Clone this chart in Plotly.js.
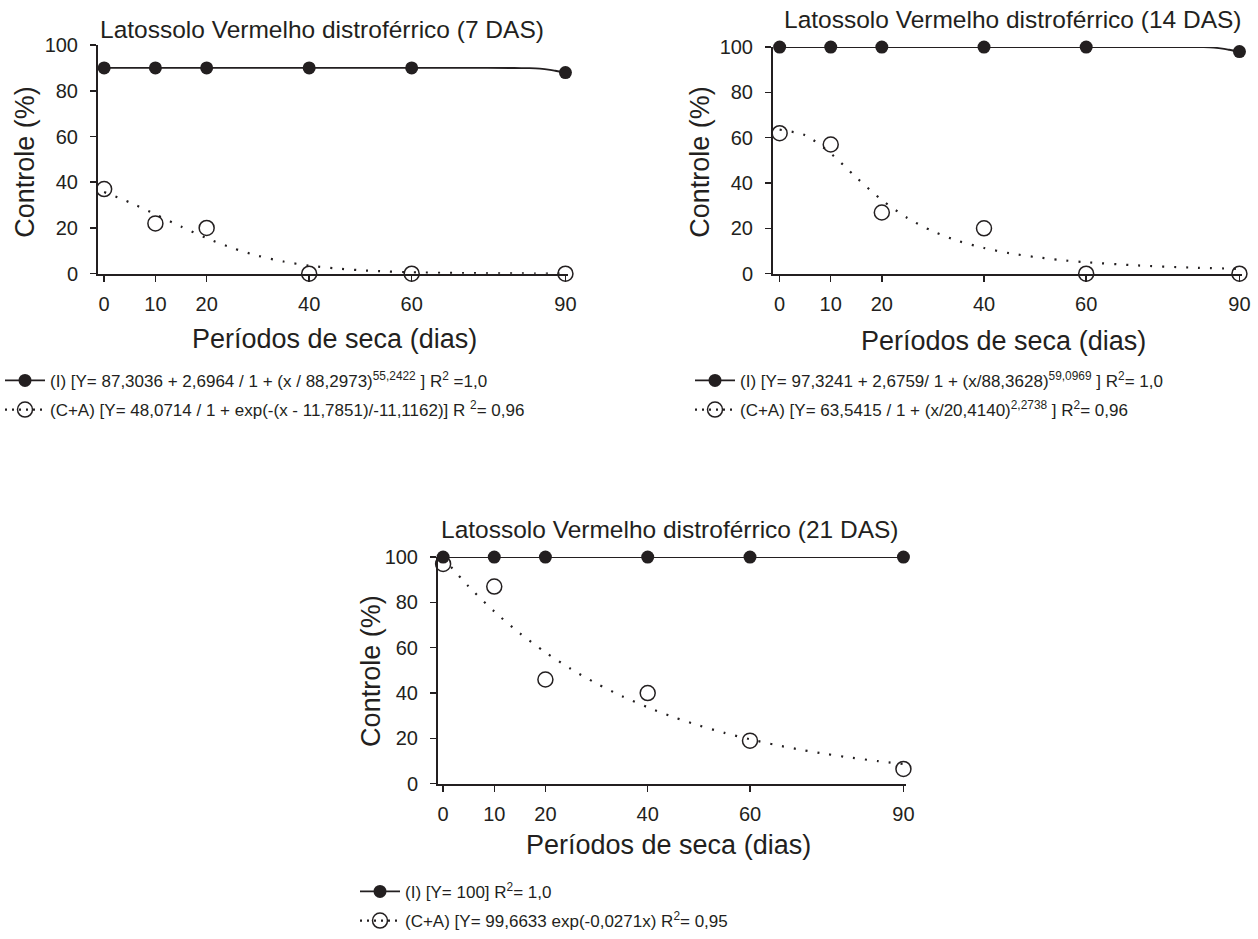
<!DOCTYPE html>
<html>
<head>
<meta charset="utf-8">
<script src="https://cdn.plot.ly/plotly-3.0.1.min.js"></script>
<style>html,body{margin:0;padding:0;background:#fff;}#chart{width:1258px;height:939px;}</style>
</head>
<body>
<div id="chart"></div>
<script>
// ---- Data ----
const days = [0, 10, 20, 40, 60, 90];
const xTickVals = [0, 10, 20, 40, 60, 90];
const yTickVals = [0, 20, 40, 60, 80, 100];

// 7 DAS
const obsI7 = [90, 90, 90, 90, 90, 88];
const obsCA7 = [37, 22, 20, 0, 0, 0];
const fitI7x = [0, 10, 20, 40, 60, 70, 80, 83, 85, 87, 88, 89, 90];
const fitI7y = [90, 90, 90, 90, 90, 90, 89.99, 89.91, 89.7, 89.17, 88.78, 88.36, 88.0];
const fitCA7x = [0, 5, 10, 15, 20, 25, 30, 35, 40, 45, 50, 55, 60, 70, 80, 90];
const fitCA7y = [35.7, 31.15, 25.96, 20.58, 15.54, 11.22, 7.82, 5.3, 3.52, 2.31, 1.5, 0.97, 0.62, 0.25, 0.1, 0.04];

// 14 DAS
const obsI14 = [100, 100, 100, 100, 100, 98];
const obsCA14 = [62, 57, 27, 20, 0, 0];
const fitI14x = [0, 10, 20, 40, 60, 70, 80, 83, 85, 87, 88, 89, 90];
const fitI14y = [100, 100, 100, 100, 100, 100, 99.99, 99.94, 99.76, 99.24, 98.82, 98.38, 98.0];
const fitCA14x = [0, 5, 10, 15, 20, 25, 30, 35, 40, 45, 50, 55, 60, 70, 80, 90];
const fitCA14y = [63.54, 61.05, 53.06, 42.46, 32.51, 24.58, 18.69, 14.42, 11.32, 9.03, 7.33, 6.03, 5.04, 3.64, 2.72, 2.11];

// 21 DAS
const obsI21 = [100, 100, 100, 100, 100, 100];
const obsCA21 = [97, 87, 46, 40, 19, 6.5];
const fitI21x = [0, 90];
const fitI21y = [100, 100];
const fitCA21x = [0, 5, 10, 15, 20, 25, 30, 35, 40, 45, 50, 55, 60, 65, 70, 75, 80, 85, 90];
const fitCA21y = [99.66, 87.04, 76.01, 66.38, 57.97, 50.62, 44.21, 38.6, 33.71, 29.44, 25.71, 22.45, 19.61, 17.12, 14.95, 13.06, 11.4, 9.96, 8.7];

// Titles and legend texts
const panelTitles = [
  'Latossolo Vermelho distroférrico (7 DAS)',
  'Latossolo Vermelho distroférrico (14 DAS)',
  'Latossolo Vermelho distroférrico (21 DAS)'
];
const yTitle = 'Controle (%)';
const xTitle = 'Períodos de seca (dias)';
const legendI = [
  '(I) [Y= 87,3036 + 2,6964 / 1 + (x / 88,2973)<sup>55,2422</sup> ] R<sup>2</sup> =1,0',
  '(I) [Y= 97,3241 + 2,6759/ 1 + (x/88,3628)<sup>59,0969</sup> ] R<sup>2</sup>= 1,0',
  '(I) [Y= 100] R<sup>2</sup>= 1,0'
];
const legendCA = [
  '(C+A) [Y= 48,0714 / 1 + exp(-(x - 11,7851)/-11,1162)] R <sup>2</sup>= 0,96',
  '(C+A) [Y= 63,5415 / 1 + (x/20,4140)<sup>2,2738</sup> ] R<sup>2</sup>= 0,96',
  '(C+A) [Y= 99,6633 exp(-0,0271x) R<sup>2</sup>= 0,95'
];

// ---- Styling ----
const INK = '#231f20';
const FONT = 'Liberation Sans, Arial, Helvetica, sans-serif';
const W = 1258, H = 939;
const px = v => v / W;
const py = v => 1 - v / H;

const solidLine = {color: INK, width: 1.8};
const dotLine = {color: INK, width: 2.2, dash: '2px,10px', shape: 'spline', smoothing: 0.8};
const filledMarker = {symbol: 'circle', size: 13, color: INK};
const openMarker = {symbol: 'circle-open', size: 15, color: INK, line: {width: 1.5, color: INK}};

const panels = [
  {ax: '', obsI: obsI7, obsCA: obsCA7, fIx: fitI7x, fIy: fitI7y, fCx: fitCA7x, fCy: fitCA7y, leg: 'legend'},
  {ax: '2', obsI: obsI14, obsCA: obsCA14, fIx: fitI14x, fIy: fitI14y, fCx: fitCA14x, fCy: fitCA14y, leg: 'legend2'},
  {ax: '3', obsI: obsI21, obsCA: obsCA21, fIx: fitI21x, fIy: fitI21y, fCx: fitCA21x, fCy: fitCA21y, leg: 'legend3'}
];

const traces = [];
panels.forEach((p, i) => {
  const xa = 'x' + p.ax, ya = 'y' + p.ax;
  traces.push({x: p.fCx, y: p.fCy, xaxis: xa, yaxis: ya, mode: 'lines', line: dotLine, showlegend: false, cliponaxis: false, hoverinfo: 'skip'});
  traces.push({x: p.fIx, y: p.fIy, xaxis: xa, yaxis: ya, mode: 'lines', line: {color: INK, width: 1.8, shape: 'spline', smoothing: 0.6}, showlegend: false, cliponaxis: false, hoverinfo: 'skip'});
  traces.push({x: days, y: p.obsCA, xaxis: xa, yaxis: ya, mode: 'markers', marker: openMarker, showlegend: false, cliponaxis: false});
  traces.push({x: days, y: p.obsI, xaxis: xa, yaxis: ya, mode: 'markers', marker: filledMarker, showlegend: false, cliponaxis: false});
  // legend entries
  traces.push({x: [null], y: [null], xaxis: xa, yaxis: ya, mode: 'lines+markers', name: legendI[i], line: solidLine, marker: filledMarker, legend: p.leg, legendgroup: 'i' + i});
  traces.push({x: [null], y: [null], xaxis: xa, yaxis: ya, mode: 'lines+markers', name: legendCA[i], line: {color: INK, width: 2.2, dash: '2px,5px'}, marker: openMarker, legend: p.leg, legendgroup: 'c' + i});
});

const axisBase = {
  showline: true, linecolor: INK, linewidth: 2, ticks: 'outside', ticklen: 6, tickwidth: 1.5, tickcolor: INK,
  showgrid: false, zeroline: false, fixedrange: true,
  tickfont: {family: FONT, size: 20, color: INK}
};
function xAxis(domain, range, anchor) {
  return Object.assign({}, axisBase, {domain, range, anchor, tickmode: 'array', tickvals: xTickVals, ticklabelstandoff: 5});
}
function yAxis(domain, anchor) {
  return Object.assign({}, axisBase, {domain, range: [0, 100], anchor, tickmode: 'array', tickvals: yTickVals, ticklabelstandoff: 8});
}

const legendBase = {
  font: {family: FONT, size: 17, color: INK}, bgcolor: 'rgba(0,0,0,0)', borderwidth: 0,
  xanchor: 'left', yanchor: 'top', traceorder: 'grouped', tracegroupgap: 4, itemwidth: 40
};

const ann = (text, x, y, size, angle) => ({
  text, x: px(x), y: py(y), xref: 'paper', yref: 'paper', showarrow: false,
  xanchor: 'center', yanchor: 'middle', textangle: angle || 0,
  font: {family: FONT, size, color: INK}
});

const layout = {
  width: W, height: H,
  margin: {l: 0, r: 0, t: 0, b: 0},
  paper_bgcolor: '#fff', plot_bgcolor: '#fff',
  showlegend: true,
  xaxis: xAxis([px(98), px(568)], [-1.2, 90.5], 'y'),
  yaxis: yAxis([py(279), py(46)], 'x'),
  xaxis2: xAxis([px(773), px(1242)], [-1.3, 90.5], 'y2'),
  yaxis2: yAxis([py(279), py(48)], 'x2'),
  xaxis3: xAxis([px(438), px(906)], [-1.0, 90.5], 'y3'),
  yaxis3: yAxis([py(799), py(568)], 'x3'),
  legend: Object.assign({}, legendBase, {x: px(0), y: py(370)}),
  legend2: Object.assign({}, legendBase, {x: px(690), y: py(370)}),
  legend3: Object.assign({}, legendBase, {x: px(355), y: py(891)}),
  annotations: [
    ann(panelTitles[0], 322, 30, 24.5),
    ann(panelTitles[1], 1013, 20, 24.5),
    ann(panelTitles[2], 670, 540, 24.5),
    ann(yTitle, 25, 165, 27, -90),
    ann(yTitle, 700, 165, 27, -90),
    ann(yTitle, 371, 684, 27, -90),
    ann(xTitle, 334, 346, 27),
    ann(xTitle, 1003, 348, 27),
    ann(xTitle, 668, 862, 27)
  ]
};

Plotly.newPlot('chart', traces, layout, {displayModeBar: false, staticPlot: true});
</script>
</body>
</html>
